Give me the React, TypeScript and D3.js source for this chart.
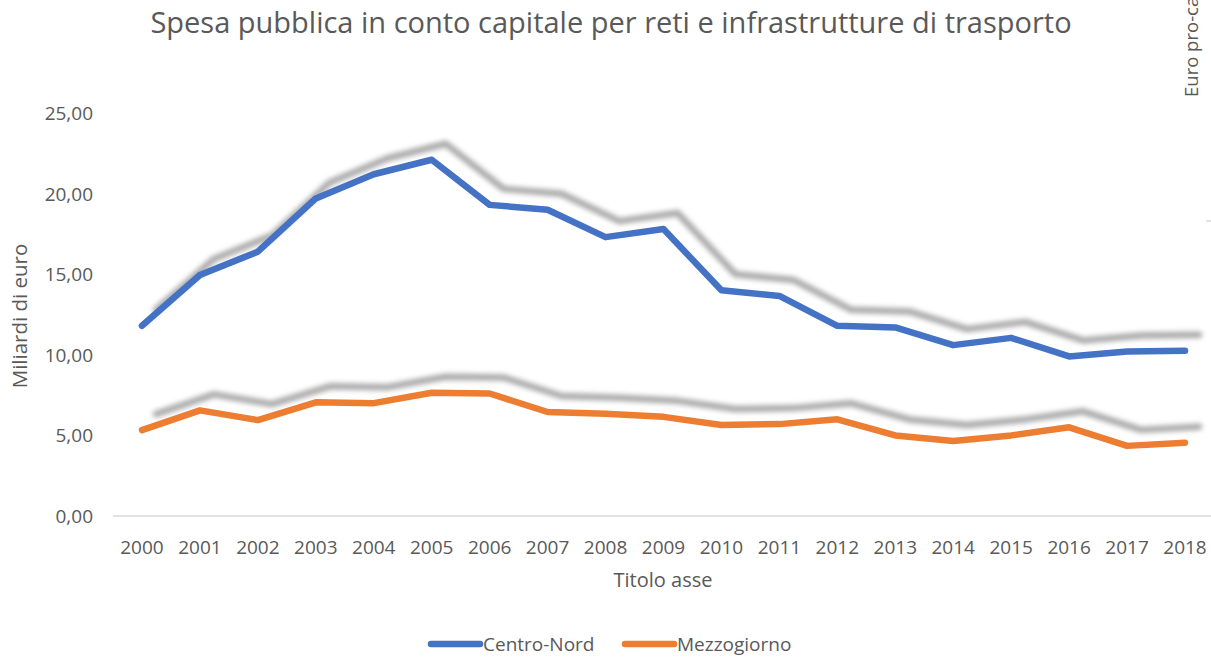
import React from "react";
import * as d3 from "d3";

const years = ["2000","2001","2002","2003","2004","2005","2006","2007","2008","2009","2010","2011","2012","2013","2014","2015","2016","2017","2018"];
const centroNord = [11.8, 14.95, 16.4, 19.7, 21.2, 22.1, 19.3, 19.0, 17.3, 17.8, 14.0, 13.65, 11.8, 11.7, 10.6, 11.05, 9.9, 10.2, 10.25];
const mezzogiorno = [5.33, 6.55, 5.95, 7.05, 7.0, 7.65, 7.6, 6.45, 6.35, 6.15, 5.65, 5.7, 6.0, 5.0, 4.65, 5.0, 5.5, 4.35, 4.55];
const yTicks = [0, 5, 10, 15, 20, 25];
const seriesNames = ["Centro-Nord", "Mezzogiorno"];
const seriesColors = ["#4472C4", "#ED7D31"];

const W = 1211, H = 657;
const FONT = "'Open Sans', 'Noto Sans', sans-serif";
const TXT = "#595959";

export default function App() {
  const x = d3.scaleBand<string>().domain(years).range([113, 1214]);
  const cx = (y: string) => (x(y) as number) + x.bandwidth() / 2;
  const y = d3.scaleLinear().domain([0, 25]).range([516, 113]);
  const fmt = (v: number) => v.toFixed(2).replace(".", ",");
  const line = d3.line<number>().x((_, i) => cx(years[i])).y((d) => y(d)).curve(d3.curveLinear);
  const all = [centroNord, mezzogiorno];

  return (
    <svg width={W} height={H} style={{ position: "absolute", left: 0, top: 0, background: "#fff" }} fontFamily={FONT}>
      <defs>
        <filter id="sh" x="-10%" y="-50%" width="120%" height="200%">
          <feGaussianBlur stdDeviation="2.4" />
        </filter>
      </defs>
      <rect width={W} height={H} fill="#fff" />
      <text x={611} y={33} textAnchor="middle" fontSize={29} fill={TXT}>
        Spesa pubblica in conto capitale per reti e infrastrutture di trasporto
      </text>
      <text transform="translate(1198,97) rotate(-90)" fontSize={18.5} fill={TXT}>Euro pro-capite</text>
      <line x1={1206} x2={1211} y1={221} y2={221} stroke="#d9d9d9" strokeWidth={1.5} />

      {yTicks.map((t) => (
        <text key={t} x={93} y={y(t) + 7} textAnchor="end" fontSize={19} fill={TXT}>{fmt(t)}</text>
      ))}
      <line x1={113} x2={1214} y1={y(0)} y2={y(0)} stroke="#d9d9d9" strokeWidth={1.5} />
      {years.map((yr) => (
        <text key={yr} x={cx(yr)} y={554} textAnchor="middle" fontSize={19} fill={TXT}>{yr}</text>
      ))}
      <text x={663} y={587} textAnchor="middle" fontSize={20} fill={TXT}>Titolo asse</text>
      <text transform="translate(27,316) rotate(-90)" textAnchor="middle" fontSize={20.5} fill={TXT}>Miliardi di euro</text>

      {all.map((s, i) => (
        <path key={"s" + i} d={line(s) as string} transform="translate(14,-16)" fill="none" stroke="#9a9a9a" strokeWidth={6.5} strokeLinejoin="round" strokeLinecap="round" filter="url(#sh)" opacity={0.85} />
      ))}
      {all.map((s, i) => (
        <path key={"l" + i} d={line(s) as string} fill="none" stroke={seriesColors[i]} strokeWidth={6.5} strokeLinejoin="round" strokeLinecap="round" />
      ))}

      {seriesNames.map((n, i) => {
        const lx = [428, 622][i];
        return (
          <g key={n}>
            <line x1={lx + 3} x2={lx + 52} y1={644} y2={644} stroke={seriesColors[i]} strokeWidth={6.5} strokeLinecap="round" />
            <text x={lx + 55} y={651} fontSize={19} fill={TXT}>{n}</text>
          </g>
        );
      })}
    </svg>
  );
}
